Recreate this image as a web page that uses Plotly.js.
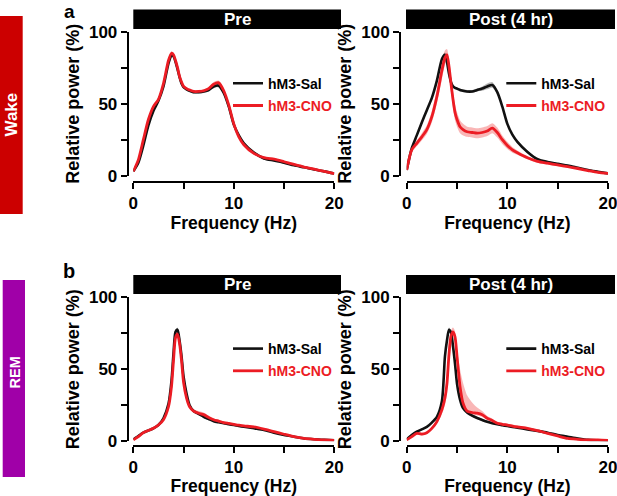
<!DOCTYPE html>
<html><head><meta charset="utf-8">
<script src="https://cdn.plot.ly/plotly-3.0.1.min.js"></script>
<style>html,body{margin:0;padding:0;background:#fff}#chart{width:617px;height:496px}</style>
</head><body><div id="chart"></div>
<script>
// Frequency grid (Hz)
const freq = [0,0.5,1,1.5,2,2.5,3, 3.5,3.8,4,4.2,4.4,4.6,4.8, 5,5.3,5.6,6,6.5,7,7.5, 8,8.5,9,9.5,10,10.5,11, 12,13,14,15,16,17,18, 19,20];

// Wake, Pre
const wakePreSal    = [3,9,21,35,45,52,62, 78,83.5,83,79,74,68.5,64, 61.5,60,59,58,58,58.5,59.5, 62,62.5,57.5,48,35.5,28,22.5, 16,12,10.5,9,7.2,5.8,4.3, 3,1.5];
const wakePreSalSem = [0.5,1,1,1,1,1,1, 1.5,1.5,1.5,1.5,1.5,1,1, 1,1,1,1,1,1,1, 1.2,1.2,1.2,1,1,1,1, 0.8,0.8,0.8,0.6,0.6,0.5,0.5, 0.4,0.3];
const wakePreCno    = [3,11,25,39,48,53,64, 80,85,84,80,75,69,65, 62,60.5,59.5,58.5,58.5,59,60.5, 63.5,64.5,59,49,36,27,21.5, 15.5,12.5,11.5,9.7,7.8,6,4.5, 3,1.5];
const wakePreCnoSem = [0.5,1,1,1,1,1,1, 1.5,1.5,1.5,1.5,1.5,1,1, 1,1,1,1,1,1,1, 1.5,1.5,1.5,1.2,1,1,1, 0.8,0.8,0.8,0.6,0.6,0.5,0.5, 0.4,0.3];

// Wake, Post (4 hr)
const wakePostSal    = [4,19,28,37,45.5,54,66, 81,84,79,71,65,62,61, 60.5,59.5,59,58.5,58.5,59.5,60.5, 62,63,58,48,36,28.5,23.5, 16.5,11.5,9.5,8.2,7,5.5,4, 2.8,1.6];
const wakePostSalSem = [0.5,1,1,1,1,1,1, 1.5,1.5,1.5,1.5,1.2,1,1, 1,1,1,1,1,1,1.5, 2,2,1.5,1,1,1,1, 0.8,0.8,0.6,0.6,0.5,0.5,0.4, 0.3,0.3];
const wakePostCno    = [4,18,22.5,27,32,41,55, 73,82,84,76,64,53,44, 39,34,32,30.5,30,29.5,30, 31,33,30,25,21,18,16, 12.5,10,8.7,7.5,6.3,5,3.6, 2.3,1.6];
const wakePostCnoSem = [1,2,2,2.5,3,4,5, 6,5,4,5,6,6,5.5, 5,4.5,4,3.5,3.5,3.5,3.5, 3.5,3.5,3.5,3,2.5,2,1.5, 1,1,1,1,0.8,0.7,0.5, 0.5,0.5];

// REM, Pre
const remPreSal    = [1.4,3.7,6,7.5,9,11.3,16, 26,42,61,76,77.5,70,59, 45,33,25,21,19,17,15.5, 14,13.2,12.5,11.9,11.3,10.7,10.1, 9,7.9,6,4.4,3.2,2,1.4, 1,0.7];
const remPreSalSem = [0.3,0.5,0.6,0.6,0.6,0.6,0.8, 1,1.5,1.5,1.5,1.5,1.5,1.5, 1.2,1,0.8,0.8,0.8,0.8,0.8, 0.6,0.6,0.6,0.6,0.6,0.6,0.6, 0.5,0.5,0.5,0.4,0.4,0.3,0.3, 0.3,0.3];
const remPreCno    = [1,3.2,6,7.5,9,11.3,15, 24,38,56,72,74.5,68,56, 41,30,24,21,19.5,18.5,16.5, 15,14,13,12.4,11.8,11.2,10.7, 10,8.5,6.7,4.9,3.2,2,1.4, 1,0.7];
const remPreCnoSem = [0.3,0.5,0.6,0.6,0.6,0.6,0.8, 1,1.5,2,2,2,2,1.5, 1.2,1,1,1.2,1.5,1.5,1.2, 0.8,0.8,0.7,0.6,0.6,0.6,0.6, 0.5,0.5,0.5,0.4,0.4,0.3,0.3, 0.3,0.3];

// REM, Post (4 hr)
const remPostSal     = [1.4,4.4,6.7,8.3,10,13,17, 28,59,70,77.5,75.5,66,54, 40,29,23,20,17.8,16.2,14.8, 13.6,12.6,11.8,11.2,10.6,10,9.5, 8.3,7.2,6,4.4,3.2,2,1, 0.7,0.5];
const remPostSalSem  = [0.3,0.5,0.6,0.6,0.6,0.6,0.8, 1,1.5,1.5,1.5,1.5,1.5,1.5, 1.2,1,0.8,0.8,0.8,0.8,0.8, 0.6,0.6,0.6,0.6,0.6,0.6,0.6, 0.5,0.5,0.5,0.4,0.4,0.3,0.3, 0.3,0.3];
const remPostCno     = [1,3.2,5.5,5,6,9,13.7, 22,30,40,60,73,76,72.5, 59,38,26.5,21,20,19.5,18.5, 16,14.5,12.5,11.8,11.3,10.6,10, 9,7.4,5.5,3.7,2,1.4,1, 1,0.7];
const remPostCnoSemUp= [0.5,1,1,1,1,1,1.5, 2,4,8,8,4,3,4, 5,12,14,11,7,4,2.5, 1.5,1.2,1,1,1,1,1, 0.8,0.8,0.8,0.6,0.5,0.5,0.4, 0.3,0.3];
const remPostCnoSemDn= [0.5,1,1,1,1,1,1.5, 3,5,6,5,3,2,2, 3,3,2,1.5,1.5,1.5,1.5, 1.2,1,1,1,1,1,1, 0.8,0.8,0.8,0.6,0.5,0.5,0.4, 0.3,0.3];

// Labels
const seriesNames = ['hM3-Sal', 'hM3-CNO'];
const panelTitles = ['Pre', 'Post (4 hr)', 'Pre', 'Post (4 hr)'];
const stateLabels = ['Wake', 'REM'];
const panelLetters = ['a', 'b'];
const xTickVals = [0,5,10,15,20], xTickText = ['0','','10','','20'];
const yTickVals = [0,25,50,75,100], yTickText = ['0','','50','','100'];

const FONT = '"Liberation Sans", Arial, Helvetica, sans-serif';
const RED = '#ec1c24', BLACK = '#111111';
const PINK = 'rgba(240,80,80,0.42)', GREY = 'rgba(40,40,40,0.32)';
const W = 617, H = 496;
const px = v => v / W, py = v => 1 - v / H;

function bandTraces(y, up, dn, xa, ya, color) {
  const hi = y.map((v, i) => v + up[i]);
  const lo = y.map((v, i) => v - dn[i]);
  const ln = {width: 0, shape: 'spline', smoothing: 0.7};
  return [
    {x: freq, y: lo, xaxis: xa, yaxis: ya, mode: 'lines', line: ln, showlegend: false, hoverinfo: 'skip'},
    {x: freq, y: hi, xaxis: xa, yaxis: ya, mode: 'lines', line: ln, fill: 'tonexty', fillcolor: color, showlegend: false, hoverinfo: 'skip'}
  ];
}

const panels = [
  {xa: 'x',  ya: 'y',  sal: wakePreSal,  salSem: wakePreSalSem,  cno: wakePreCno,  cnoUp: wakePreCnoSem,  cnoDn: wakePreCnoSem,  leg: 'legend'},
  {xa: 'x2', ya: 'y2', sal: wakePostSal, salSem: wakePostSalSem, cno: wakePostCno, cnoUp: wakePostCnoSem, cnoDn: wakePostCnoSem, leg: 'legend2'},
  {xa: 'x3', ya: 'y3', sal: remPreSal,   salSem: remPreSalSem,   cno: remPreCno,   cnoUp: remPreCnoSem,   cnoDn: remPreCnoSem,   leg: 'legend3'},
  {xa: 'x4', ya: 'y4', sal: remPostSal,  salSem: remPostSalSem,  cno: remPostCno,  cnoUp: remPostCnoSemUp, cnoDn: remPostCnoSemDn, leg: 'legend4'}
];

const data = [];
panels.forEach((p, k) => {
  data.push(...bandTraces(p.sal, p.salSem, p.salSem, p.xa, p.ya, GREY));
  data.push(...bandTraces(p.cno, p.cnoUp, p.cnoDn, p.xa, p.ya, PINK));
  data.push({x: freq, y: p.sal, xaxis: p.xa, yaxis: p.ya, mode: 'lines', name: seriesNames[0],
    line: {color: BLACK, width: 2.6, shape: 'spline', smoothing: 0.7}, legend: p.leg, legendgroup: 'sal' + k});
  data.push({x: freq, y: p.cno, xaxis: p.xa, yaxis: p.ya, mode: 'lines',
    name: '<span style="color:' + RED + '">' + seriesNames[1] + '</span>',
    line: {color: RED, width: 2.8, shape: 'spline', smoothing: 0.7}, legend: p.leg, legendgroup: 'cno' + k});
});

const tickFont = {family: FONT, size: 17, weight: 700, color: '#000'};
const titleFont = {family: FONT, size: 17.5, weight: 700, color: '#000'};
function xAxis(dom, pos) {
  return {domain: dom, range: [0, 20], anchor: 'free', position: pos, showline: true, linewidth: 2, linecolor: '#000',
    ticks: 'outside', ticklen: 6, tickwidth: 2, tickcolor: '#000', tickvals: xTickVals, ticktext: xTickText,
    tickfont: tickFont, showgrid: false, zeroline: false, fixedrange: true, ticklabeloverflow: 'allow',
    title: {text: 'Frequency (Hz)', font: titleFont, standoff: 2}};
}
function yAxis(dom, pos) {
  return {domain: dom, range: [0, 100], anchor: 'free', position: pos, showline: true, linewidth: 2, linecolor: '#000',
    ticks: 'outside', ticklen: 6, tickwidth: 2, tickcolor: '#000', tickvals: yTickVals, ticktext: yTickText,
    tickfont: tickFont, showgrid: false, zeroline: false, fixedrange: true, ticklabeloverflow: 'allow',
    title: {text: 'Relative power (%)', font: {family: FONT, size: 18, weight: 700, color: '#000'}, standoff: 4}};
}
const xL = [px(133.3), px(334.3)], xR = [px(406.7), px(608)];
const yT = [py(175.7), py(31.7)], yB = [py(441.3), py(297.3)];

function legendCfg(x, y) {
  return {x: x, y: y, xanchor: 'left', yanchor: 'top', bgcolor: 'rgba(0,0,0,0)', borderwidth: 0,
    font: {family: FONT, size: 14, weight: 700, color: '#000'}, tracegroupgap: 1, itemwidth: 30};
}

const shapes = [
  {type: 'rect', xref: 'paper', yref: 'paper', x0: px(0), x1: px(22.7), y0: py(214), y1: py(16), fillcolor: '#cc0000', line: {width: 0}},
  {type: 'rect', xref: 'paper', yref: 'paper', x0: px(2.7), x1: px(25), y0: py(477), y1: py(280), fillcolor: '#a000a8', line: {width: 0}},
  {type: 'rect', xref: 'paper', yref: 'paper', x0: px(133.3), x1: px(341), y0: py(29), y1: py(9.5), fillcolor: '#000', line: {width: 0}},
  {type: 'rect', xref: 'paper', yref: 'paper', x0: px(406), x1: px(615), y0: py(29), y1: py(9.5), fillcolor: '#000', line: {width: 0}},
  {type: 'rect', xref: 'paper', yref: 'paper', x0: px(133.3), x1: px(341), y0: py(294), y1: py(275), fillcolor: '#000', line: {width: 0}},
  {type: 'rect', xref: 'paper', yref: 'paper', x0: px(406), x1: px(615), y0: py(294), y1: py(275), fillcolor: '#000', line: {width: 0}}
];

const headerPos = [[237, 19.3], [510.5, 19.3], [237, 284.5], [510.5, 284.5]];
const annotations = headerPos.map((h, i) => ({xref: 'paper', yref: 'paper', x: px(h[0]), y: py(h[1]), xanchor: 'center', yanchor: 'middle',
  text: panelTitles[i], showarrow: false, font: {family: FONT, size: 17, weight: 700, color: '#fff'}}));
annotations.push(
  {xref: 'paper', yref: 'paper', x: px(11.5), y: py(115), xanchor: 'center', yanchor: 'middle', textangle: -90, text: stateLabels[0], showarrow: false, font: {family: FONT, size: 17, weight: 700, color: '#fff'}},
  {xref: 'paper', yref: 'paper', x: px(14.5), y: py(373), xanchor: 'center', yanchor: 'middle', textangle: -90, text: stateLabels[1], showarrow: false, font: {family: FONT, size: 14.5, weight: 700, color: '#fff'}},
  {xref: 'paper', yref: 'paper', x: px(69), y: py(11), xanchor: 'center', yanchor: 'middle', text: panelLetters[0], showarrow: false, font: {family: FONT, size: 19, weight: 700, color: '#000'}},
  {xref: 'paper', yref: 'paper', x: px(69), y: py(271), xanchor: 'center', yanchor: 'middle', text: panelLetters[1], showarrow: false, font: {family: FONT, size: 20, weight: 700, color: '#000'}}
);

const layout = {
  width: W, height: H, margin: {l: 0, r: 0, t: 0, b: 0}, paper_bgcolor: '#fff', plot_bgcolor: 'rgba(0,0,0,0)',
  font: {family: FONT},
  xaxis: xAxis(xL, py(182)), yaxis: yAxis(yT, px(127.7)),
  xaxis2: xAxis(xR, py(182)), yaxis2: yAxis(yT, px(400)),
  xaxis3: xAxis(xL, py(446)), yaxis3: yAxis(yB, px(127.7)),
  xaxis4: xAxis(xR, py(446)), yaxis4: yAxis(yB, px(400)),
  legend: legendCfg(px(228), py(67.7)),
  legend2: legendCfg(px(501.3), py(67.7)),
  legend3: legendCfg(px(228), py(333)),
  legend4: legendCfg(px(501.3), py(333)),
  shapes: shapes, annotations: annotations, showlegend: true
};

Plotly.newPlot('chart', data, layout, {displayModeBar: false, staticPlot: true});
</script></body></html>
